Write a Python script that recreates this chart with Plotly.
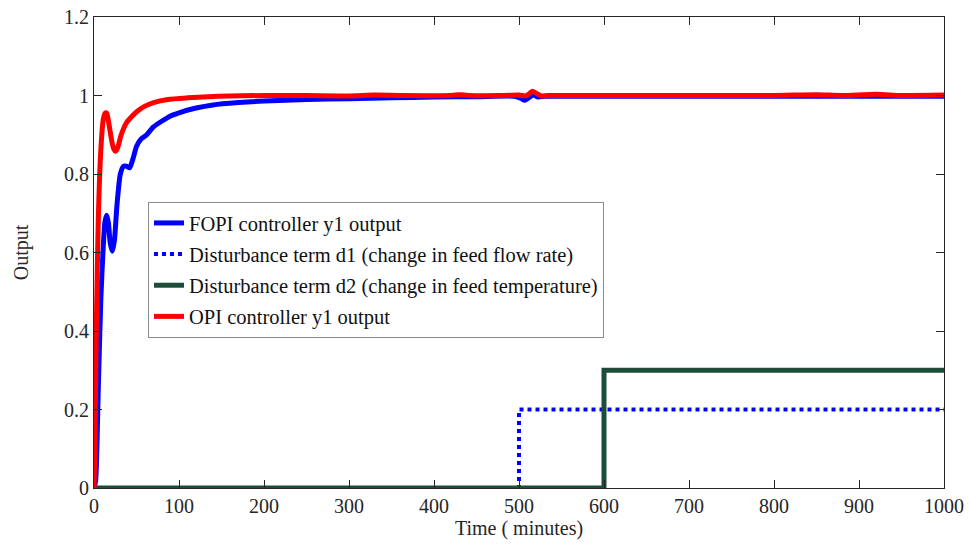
import plotly.graph_objects as go

# Closed-loop response of the process output y1 (minutes)
t_fopi = [0, 2, 5, 8, 11, 13, 15, 17, 19, 21.5, 24, 27, 31, 35, 38, 42, 46, 50, 55, 62,
          70, 80, 90, 100, 120, 140, 170, 200, 250, 300, 350, 400, 450, 495, 502, 507,
          512, 517, 522, 530, 545, 600, 700, 800, 900, 1000]
y_fopi = [0, 0.02, 0.25, 0.48, 0.62, 0.68, 0.695, 0.675, 0.625, 0.603, 0.63, 0.72, 0.80, 0.82,
          0.82, 0.816, 0.84, 0.87, 0.888, 0.90, 0.92, 0.935, 0.948, 0.956, 0.968, 0.976,
          0.982, 0.986, 0.99, 0.992, 0.994, 0.996, 0.997, 0.998, 0.993, 0.988, 0.995,
          1.002, 0.996, 0.998, 0.998, 0.998, 0.998, 0.998, 0.998, 0.998]

t_opi = [0, 1, 3, 5, 8, 11, 13, 15, 17, 20, 23, 25.5, 28, 32, 38, 45, 52, 60, 70, 87,
         110, 146, 200, 250, 300, 330, 360, 420, 430, 440, 480, 500, 508, 513, 516, 520,
         526, 535, 600, 700, 800, 850, 880, 920, 950, 1000]
y_opi = [0, 0.1, 0.45, 0.68, 0.86, 0.94, 0.955, 0.955, 0.935, 0.895, 0.865, 0.858, 0.868,
         0.9, 0.93, 0.948, 0.962, 0.973, 0.982, 0.99, 0.994, 0.998, 1.0, 1.0, 0.999, 1.001,
         1.0, 1.0, 1.002, 1.0, 1.0, 1.001, 0.999, 1.006, 1.011, 1.006, 0.999, 1.0, 1.0, 1.0,
         1.0, 1.002, 1.0, 1.003, 1.0, 1.001]

# Step disturbances
t_d1 = [0, 500, 1000]
y_d1 = [0, 0.2, 0.2]
t_d2 = [0, 600, 1000]
y_d2 = [0, 0.3, 0.3]

x_ticks = [0, 100, 200, 300, 400, 500, 600, 700, 800, 900, 1000]
y_ticks = [0, 0.2, 0.4, 0.6, 0.8, 1, 1.2]
y_tick_text = ["0", "0.2", "0.4", "0.6", "0.8", "1", "1.2"]

FONT = "Liberation Serif, Times New Roman, serif"
FS = 20

fig = go.Figure()
fig.add_trace(go.Scatter(x=t_fopi, y=y_fopi, mode="lines", name="FOPI controller y1 output",
                         legendgroup="a",
                         line=dict(color="#0000ff", width=5, shape="spline", smoothing=0.6)))
fig.add_trace(go.Scatter(x=t_d1, y=y_d1, mode="lines",
                         name="Disturbance term d1 (change in feed flow rate)", legendgroup="b",
                         line=dict(color="#0000ff", width=4, dash="dot", shape="hv")))
fig.add_trace(go.Scatter(x=t_d2, y=y_d2, mode="lines",
                         name="Disturbance term d2 (change in feed temperature)", legendgroup="c",
                         line=dict(color="#1b4d3a", width=5, shape="hv")))
fig.add_trace(go.Scatter(x=t_opi, y=y_opi, mode="lines", name="OPI controller y1 output",
                         legendgroup="d",
                         line=dict(color="#ff0000", width=5, shape="spline", smoothing=0.6)))

axis_common = dict(showgrid=False, zeroline=False, showline=True, linecolor="#262626",
                   linewidth=1, mirror="allticks", ticks="inside", ticklen=8, automargin=False,
                   tickcolor="#262626", tickfont=dict(family=FONT, size=FS, color="#262626"))

fig.update_xaxes(range=[0, 1000], tickvals=x_ticks,
                 title=dict(text="Time ( minutes)", font=dict(family=FONT, size=FS, color="#262626"),
                            standoff=2),
                 **axis_common)
fig.update_yaxes(range=[0, 1.2], tickvals=y_ticks, ticktext=y_tick_text,
                 title=dict(text="Output", font=dict(family=FONT, size=FS, color="#262626"),
                            standoff=30),
                 **axis_common)

fig.update_layout(
    width=970, height=546,
    margin=dict(l=94, r=26, t=17, b=58),
    paper_bgcolor="white", plot_bgcolor="white",
    font=dict(family=FONT, size=FS, color="#111111"),
    legend=dict(x=0.0635, y=0.607, xanchor="left", yanchor="top",
                bgcolor="white", bordercolor="#8a8a8a", borderwidth=1,
                font=dict(family=FONT, size=20.5, color="#111111"),
                tracegroupgap=1.5, itemwidth=30),
    showlegend=True,
)

fig.write_html("out.html")
